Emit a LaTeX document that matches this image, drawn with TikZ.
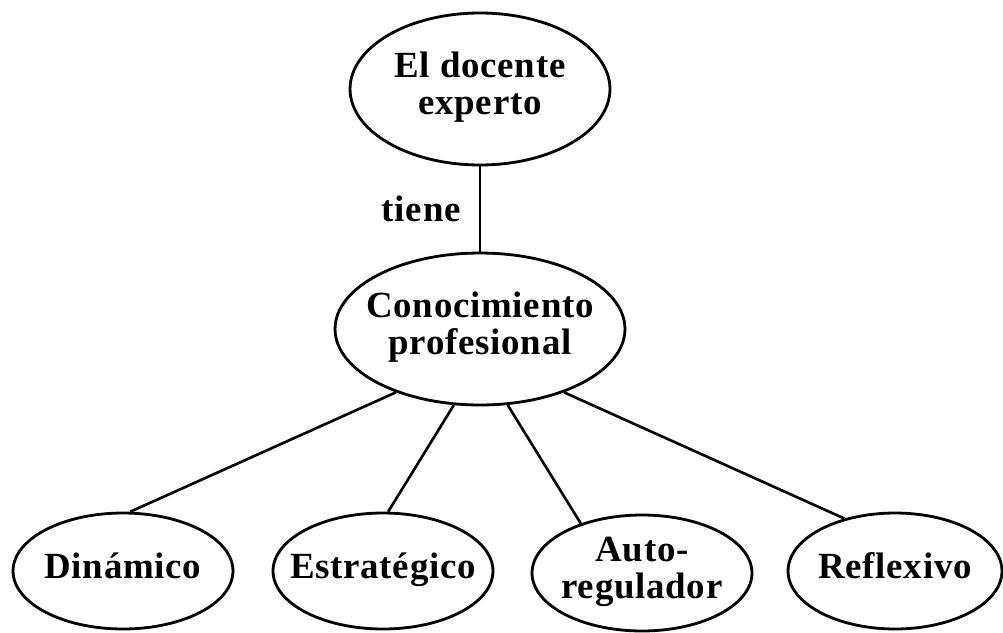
\documentclass[tikz,border=0pt]{standalone}
\usepackage{fontspec}
\setmainfont{Liberation Serif}[LetterSpace=2]
\usetikzlibrary{shapes.geometric}
\tikzset{concepto/.style={ellipse, draw, line width=1.6pt, inner sep=0pt,
         font=\bfseries\fontsize{21}{21}\selectfont},
         rama/.style={line width=1.5pt}}
\newcommand{\etiq}[1]{\makebox[0pt]{\begin{tabular}{@{}c@{}}#1\end{tabular}}}

\begin{document}
\begin{tikzpicture}[x=0.02cm, y=-0.02cm]
\useasboundingbox (0,0) rectangle (1003,632);

\node [concepto, minimum width=5.2cm, minimum height=3.04cm] (docente) at (480,89) {\etiq{El docente\\experto}};
\node [concepto, minimum width=5.8cm, minimum height=3.04cm] (conoc) at (480,329) {\etiq{Conocimiento\\profesional}};

\node [concepto, minimum width=4.4cm, minimum height=2.32cm] (din) at (123,571) {\etiq{Dinámico}};
\node [concepto, minimum width=4.4cm, minimum height=2.32cm] (estr) at (383,571) {\etiq{Estratégico}};
\node [concepto, minimum width=4.4cm, minimum height=2.32cm] (auto) at (642,573) {\etiq{Auto-\\regulador}};
\node [concepto, minimum width=4.28cm, minimum height=2.32cm] (refl) at (895,571) {\etiq{Reflexivo}};

\draw [rama] (docente.south) -- (conoc.north)
  node [midway, left=0.36cm, inner sep=0pt, font=\bfseries\fontsize{21}{21}\selectfont] (tiene) {tiene};

\draw [rama] (conoc.217) -- (din.83);
\draw [rama] (conoc.251) -- (estr.85);
\draw [rama] (conoc.290) -- (auto.141);
\draw [rama] (conoc.323) -- (refl.134);
\end{tikzpicture}
\end{document}
